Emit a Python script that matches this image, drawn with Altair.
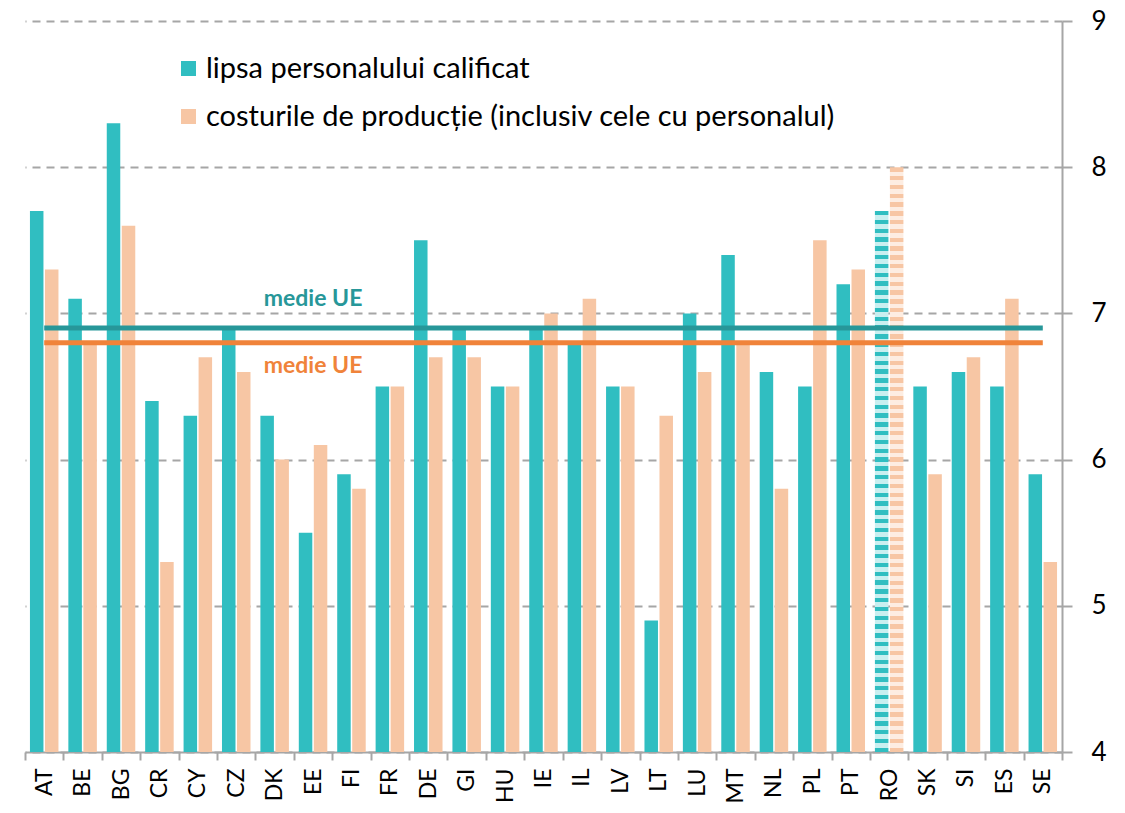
import altair as alt
import pandas as pd

countries = ["AT", "BE", "BG", "CR", "CY", "CZ", "DK", "EE", "FI", "FR", "DE", "GI", "HU", "IE",
             "IL", "LV", "LT", "LU", "MT", "NL", "PL", "PT", "RO", "SK", "SI", "ES", "SE"]
lipsa = [7.7, 7.1, 8.3, 6.4, 6.3, 6.9, 6.3, 5.5, 5.9, 6.5, 7.5, 6.9, 6.5, 6.9,
         6.8, 6.5, 4.9, 7.0, 7.4, 6.6, 6.5, 7.2, 7.7, 6.5, 6.6, 6.5, 5.9]
costuri = [7.3, 6.8, 7.6, 5.3, 6.7, 6.6, 6.0, 6.1, 5.8, 6.5, 6.7, 6.7, 6.5, 7.0,
           7.1, 6.5, 6.3, 6.6, 6.8, 5.8, 7.5, 7.3, 8.0, 5.9, 6.7, 7.1, 5.3]
series = ["lipsa personalului calificat", "costurile de producție  (inclusiv cele cu personalul)"]
mean_lipsa = 6.9
mean_costuri = 6.8
highlight = "RO"

TEAL = "#30BEC1"
PEACH = "#F7C6A4"
TEAL_LINE = "#279799"
ORANGE_LINE = "#F0833A"
GRAY = "#A6A6A6"
FONT = "Lato"

W, H = 1037, 731
YMIN, YMAX = 4, 9
PX = H / (YMAX - YMIN)

rows = []
for c, a, b in zip(countries, lipsa, costuri):
    rows.append({"country": c, "series": series[0], "value": a})
    rows.append({"country": c, "series": series[1], "value": b})
df = pd.DataFrame(rows)
df_main = df[df.country != highlight]
df_ro_a = df[(df.country == highlight) & (df.series == series[0])]
df_ro_b = df[(df.country == highlight) & (df.series == series[1])]

df_mean_a = pd.DataFrame({"country": [countries[0], countries[-1]], "value": [mean_lipsa] * 2})
df_mean_b = pd.DataFrame({"country": [countries[0], countries[-1]], "value": [mean_costuri] * 2})
df_txt_a = pd.DataFrame({"country": ["EE"], "value": [7.1], "t": ["medie UE"]})
df_txt_b = pd.DataFrame({"country": ["EE"], "value": [6.64], "t": ["medie UE"]})

x_enc = alt.X("country:N", sort=countries,
              scale=alt.Scale(domain=countries, paddingInner=0, paddingOuter=0),
              axis=alt.Axis(title=None, labelAngle=270, tickBand="extent",
                            labelFont=FONT, labelFontSize=23, labelColor="black",
                            domainColor=GRAY, domainWidth=2, tickColor=GRAY, tickWidth=2,
                            tickSize=8, labelPadding=8))
y_enc = alt.Y("value:Q",
              scale=alt.Scale(domain=[YMIN, YMAX], zero=False, nice=False),
              axis=alt.Axis(orient="right", title=None, values=[4, 5, 6, 7, 8, 9],
                            grid=True, gridDash=[8, 6], gridColor=GRAY, gridWidth=2,
                            domainColor=GRAY, domainWidth=2, tickColor=GRAY, tickWidth=2,
                            tickSize=10, labelFont=FONT, labelFontSize=26, labelColor="black",
                            labelPadding=19))
xo_enc = alt.XOffset("series:N", sort=series,
                     scale=alt.Scale(domain=series, paddingInner=0.1, paddingOuter=0.33))


def stripes(color, light, value, cell=4.4):
    h = (value - YMIN) * PX
    n = max(2, int(round(h / cell)))
    stops = []
    for i in range(n):
        col = color if i % 2 == 0 else light
        stops.append(alt.GradientStop(offset=i / n, color=col))
        stops.append(alt.GradientStop(offset=(i + 1) / n, color=col))
    return alt.LinearGradient(gradient="linear", stops=stops, x1=0, x2=0, y1=0, y2=1)


bars = alt.Chart(df_main).mark_bar().encode(
    x=x_enc, y=y_enc, y2=alt.datum(YMIN), xOffset=xo_enc,
    color=alt.Color("series:N", sort=series,
                    scale=alt.Scale(domain=series, range=[TEAL, PEACH]),
                    legend=alt.Legend(orient="none", legendX=149, legendY=33, title=None,
                                      labelFont=FONT, labelFontSize=29, labelColor="black",
                                      symbolType="square", symbolSize=225, rowPadding=18,
                                      labelOffset=3, symbolStrokeWidth=0, labelLimit=900,
                                      padding=0)),
)

ro_a = alt.Chart(df_ro_a).mark_bar(
    fill=stripes(TEAL, "#C9EFF0", float(df_ro_a.value.iloc[0]))
).encode(x=x_enc, y=y_enc, y2=alt.datum(YMIN), xOffset=xo_enc)

ro_b = alt.Chart(df_ro_b).mark_bar(
    fill=stripes(PEACH, "#FDEDE2", float(df_ro_b.value.iloc[0]))
).encode(x=x_enc, y=y_enc, y2=alt.datum(YMIN), xOffset=xo_enc)

line_a = alt.Chart(df_mean_a).mark_line(color=TEAL_LINE, strokeWidth=5).encode(x=x_enc, y=y_enc)
line_b = alt.Chart(df_mean_b).mark_line(color=ORANGE_LINE, strokeWidth=5).encode(x=x_enc, y=y_enc)

txt_a = alt.Chart(df_txt_a).mark_text(color=TEAL_LINE, font=FONT, fontSize=23, fontWeight="bold",
                                      baseline="middle").encode(x=x_enc, y=y_enc, text="t:N")
txt_b = alt.Chart(df_txt_b).mark_text(color=ORANGE_LINE, font=FONT, fontSize=23, fontWeight="bold",
                                      baseline="middle").encode(x=x_enc, y=y_enc, text="t:N")

chart = alt.layer(bars, ro_a, ro_b, line_a, line_b, txt_a, txt_b).properties(
    width=W, height=H,
    autosize=alt.AutoSizeParams(type="none"),
    padding={"left": 17, "top": 13, "right": 55, "bottom": 52},
).configure_view(stroke=None)

chart.save("out.html", embed_options={"renderer": "svg", "actions": False})
